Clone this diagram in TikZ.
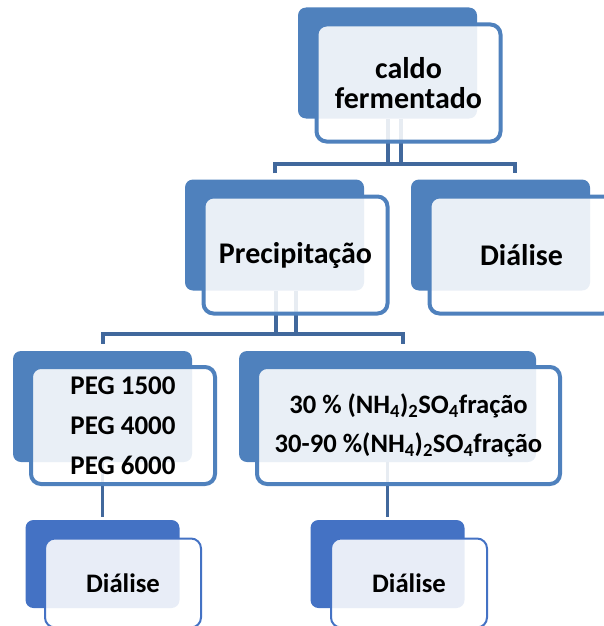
\documentclass[tikz,border=0pt]{standalone}
\usepackage{fontspec}
\setmainfont{Carlito}
\usepackage{xcolor}
\usepackage{tikz}

\definecolor{boxblue}{RGB}{79,129,189}
\definecolor{lowblue}{RGB}{68,114,196}
\definecolor{linkblue}{RGB}{65,104,156}

\begin{document}
\begin{tikzpicture}[x=1pt, y=-1pt,
    back/.style={fill=boxblue, rounded corners=8pt, inner sep=0pt,
        minimum width=179pt, minimum height=111pt},
    front/.style={draw=boxblue, line width=4pt, fill=white, fill opacity=0.88,
        text opacity=1, rounded corners=10pt, inner sep=0pt, align=center,
        minimum width=184pt, minimum height=117pt,
        font=\bfseries\fontsize{30}{30}\selectfont},
    lowfront/.style={front, draw=lowblue, line width=2pt,
        minimum width=156pt, minimum height=89pt,
        font=\bfseries\fontsize{26.7}{30}\selectfont},
    link/.style={draw=linkblue, line width=4pt}]
    \clip (0,0) rectangle (604,626);

    % back boxes
    \foreach \n/\x/\y in {caldoB/387.5/63, precB/274.5/235, dialB/500.5/235, pegB/102.5/406.5} {
        \node[back] (\n) at (\x,\y) {};
    }
    \node[back, minimum width=297pt] (nhB) at (387.5,406.5) {};
    \foreach \n/\x in {dlB/102.5, drB/387.5} {
        \node[back, fill=lowblue, minimum width=154pt, minimum height=88pt] (\n) at (\x,564) {};
    }

    % connectors
    \draw[link] (caldoB.south) -- ++(0,46);
    \draw[link] ([xshift=13.5pt]caldoB.south) -- ++(0,46);
    \draw[link] ([yshift=6pt]precB.north) -- ++(0,-9) -| ([xshift=14.5pt,yshift=6pt]dialB.north);
    \draw[link] ([xshift=1.5pt]precB.south) -- ++(0,43.5);
    \draw[link] ([xshift=21.5pt]precB.south) -- ++(0,43.5);
    \draw[link] ([yshift=7pt]pegB.north) -- ++(0,-10) -| ([xshift=15.5pt,yshift=7pt]nhB.north);
    \draw[link, line width=3pt] (pegB.south) -- ([yshift=3pt]dlB.north);
    \draw[link, line width=3pt] (nhB.south) -- ([yshift=3pt]drB.north);

    % front boxes
    \node[front] (caldo) at (408.5,83) {caldo\\fermentado};
    \node[front] (prec) at (295.5,255) {Precipitação};
    \node[front] (dial) at (521.5,255) {Diálise};
    \node[front, font=\bfseries\fontsize{27}{40}\selectfont] (peg) at (123,425.5)
        {PEG 1500\\PEG 4000\\PEG 6000};
    \node[front, minimum width=303pt, font=\bfseries\fontsize{26.6}{39}\selectfont] (nh) at (408.5,425.5)
        {30 \% (NH\textsubscript{4})\textsubscript{2}SO\textsubscript{4}fração\\
         30-90 \%(NH\textsubscript{4})\textsubscript{2}SO\textsubscript{4}fração};
    \node[lowfront] (dl) at (123,583) {Diálise};
    \node[lowfront] (dr) at (409,583) {Diálise};
\end{tikzpicture}
\end{document}
